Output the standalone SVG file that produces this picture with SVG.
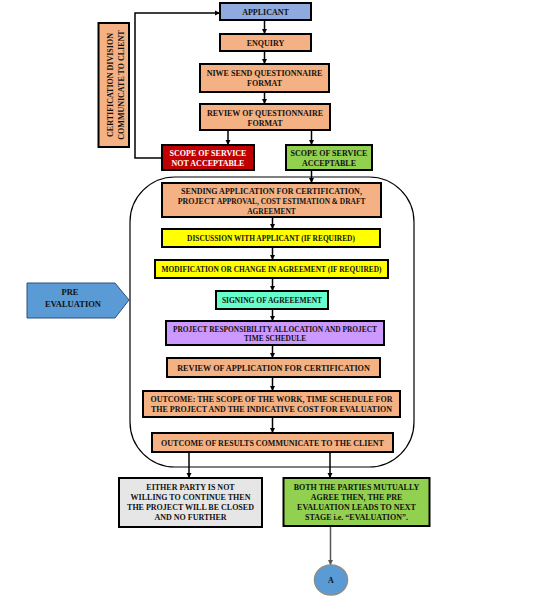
<svg xmlns="http://www.w3.org/2000/svg" width="536" height="600" viewBox="0 0 536 600">
<defs>
<marker id="ah" markerWidth="6" markerHeight="6" refX="5" refY="3" orient="auto" markerUnits="userSpaceOnUse">
<path d="M0,0.5 L5,3 L0,5.5 z" fill="#000"/>
</marker>
<marker id="ahg" markerWidth="6" markerHeight="6" refX="5" refY="3" orient="auto" markerUnits="userSpaceOnUse">
<path d="M0,0.5 L5,3 L0,5.5 z" fill="#555"/>
</marker>
<style>
.b{stroke:#000;stroke-width:2}
.t{font-family:"Liberation Serif","Times New Roman",serif;font-weight:bold;font-size:8px;fill:#111;text-anchor:middle}
.s{font-size:7.4px}
.c{fill:none;stroke:#000;stroke-width:1.5;marker-end:url(#ah)}
.peach{fill:#F4B183}
</style>
</defs>
<rect width="536" height="600" fill="#fff"/>
<rect x="130" y="177" width="284" height="290" rx="45" fill="none" stroke="#000" stroke-width="1.2"/>
<g id="connectors">
<path class="c" d="M264.5,20 V34"/>
<path class="c" d="M264.5,51 V64"/>
<path class="c" d="M264.5,92 V104"/>
<path class="c" d="M228,130 V145"/>
<path class="c" d="M311.5,130 V145"/>
<path class="c" d="M162,158 H135 V13 H220"/>
<path class="c" d="M311.5,170 V183"/>
<path class="c" d="M272.5,217 V229"/>
<path class="c" d="M272.5,247 V260"/>
<path class="c" d="M272.5,278 V291"/>
<path class="c" d="M272.5,309 V321"/>
<path class="c" d="M272.5,345 V358"/>
<path class="c" d="M272.5,377 V391"/>
<path class="c" d="M272.5,417 V433"/>
<path class="c" d="M189,452 V478"/>
<path class="c" d="M330,452 V478"/>
<path d="M330.5,526 V565" fill="none" stroke="#555" stroke-width="1.5" marker-end="url(#ahg)"/>
</g>
<g id="applicant"><rect class="b" x="220" y="3" width="91" height="17" fill="#8FAADC"/><text class="t" x="265.5" y="14.5">APPLICANT</text></g>
<g id="enquiry"><rect class="b peach" x="220" y="34" width="91" height="17"/><text class="t" x="265.5" y="45.5">ENQUIRY</text></g>
<g id="niwe"><rect class="b peach" x="200" y="64" width="129" height="28"/><text class="t" x="264.5" y="76">NIWE SEND QUESTIONNAIRE</text><text class="t" x="264.5" y="86">FORMAT</text></g>
<g id="review-q"><rect class="b peach" x="200" y="104" width="130" height="26"/><text class="t" x="265" y="116">REVIEW OF QUESTIONNAIRE</text><text class="t" x="265" y="126">FORMAT</text></g>
<g id="scope-not"><rect class="b" x="162" y="145" width="92" height="25" fill="#C00000"/><text class="t" x="208" y="155.5" style="fill:#fff">SCOPE OF SERVICE</text><text class="t" x="208" y="165.5" style="fill:#fff">NOT ACCEPTABLE</text></g>
<g id="scope-ok"><rect class="b" x="286" y="145" width="86" height="25" fill="#92D050"/><text class="t" x="329" y="155.5">SCOPE OF SERVICE</text><text class="t" x="329" y="165.5">ACCEPTABLE</text></g>
<g id="cert-division"><rect class="b peach" x="98.5" y="23" width="30.5" height="124"/><text class="t" transform="translate(113,85) rotate(-90)"><tspan x="0" y="0">CERTIFICATION DIVISION</tspan><tspan x="0" y="10.5">COMMUNICATE TO CLIENT</tspan></text></g>
<g id="sending"><rect class="b peach" x="162" y="183" width="219" height="34"/><text class="t" x="271.5" y="193.5">SENDING APPLICATION FOR CERTIFICATION,</text><text class="t" x="271.5" y="204">PROJECT <tspan class="s">APPROVAL, COST ESTIMATION &amp; DRAFT</tspan></text><text class="t s" x="271.5" y="213.5">AGREEMENT</text></g>
<g id="discussion"><rect class="b" x="162" y="229" width="218" height="18" fill="#FFFF00"/><text class="t s" x="271" y="240.5">DISCUSSION WITH APPLICANT (IF REQUIRED)</text></g>
<g id="modification"><rect class="b" x="155" y="260" width="233" height="18" fill="#FFFF00"/><text class="t s" x="271.5" y="271.5">MODIFICATION OR CHANGE IN AGREEMENT (IF REQUIRED)</text></g>
<g id="signing"><rect class="b" x="216" y="291" width="112" height="18" fill="#66FFCC"/><text class="t" x="272" y="302.5" style="font-size:7.5px">SIGNING OF AGREEEMENT</text></g>
<g id="responsibility"><rect class="b" x="166" y="321" width="218" height="24" fill="#CC99FF"/><text class="t" x="275" y="331.5" style="font-size:7.4px">PROJECT RESPONSIBILITY ALLOCATION AND PROJECT</text><text class="t" x="275" y="341" style="font-size:7.4px">TIME SCHEDULE</text></g>
<g id="review-app"><rect class="b peach" x="167" y="358" width="213" height="19"/><text class="t" x="273.5" y="370.5" style="font-size:8.2px">REVIEW OF APPLICATION FOR CERTIFICATION</text></g>
<g id="outcome"><rect class="b peach" x="143" y="391" width="257" height="26"/><text class="t" x="271.5" y="402">OUTCOME: THE SCOPE OF THE WORK, TIME SCHEDULE FOR</text><text class="t" x="271.5" y="411.5">THE PROJECT AND THE INDICATIVE COST FOR EVALUATION</text></g>
<g id="results"><rect class="b peach" x="152" y="433" width="241" height="19"/><text class="t" x="272.5" y="445.5">OUTCOME OF RESULTS COMMUNICATE TO THE CLIENT</text></g>
<g id="pre-evaluation"><polygon points="27,283 115,283 129,300 115,318 27,318" fill="#5B9BD5" stroke="#2F4F7F" stroke-width="1"/><text class="t" x="70" y="294.5" style="font-size:8.5px">PRE</text><text class="t" x="73" y="307" style="font-size:8.5px">EVALUATION</text></g>
<g id="either"><rect class="b" x="119" y="478" width="143" height="49" fill="#E7E6E6"/><text class="t" x="190.5" y="489.5">EITHER PARTY IS NOT</text><text class="t" x="190.5" y="499.5">WILLING TO CONTINUE THEN</text><text class="t" x="190.5" y="509.5">THE PROJECT WILL BE CLOSED</text><text class="t" x="190.5" y="519.5">AND NO FURTHER</text></g>
<g id="both"><rect class="b" x="283.5" y="478" width="146" height="48" fill="#92D050"/><text class="t" x="356.5" y="489.5">BOTH THE PARTIES MUTUALLY</text><text class="t" x="356.5" y="499.5">AGREE THEN, THE PRE</text><text class="t" x="356.5" y="509.5">EVALUATION LEADS TO NEXT</text><text class="t" x="356.5" y="519.5">STAGE i.e. “EVALUATION”.</text></g>
<g id="node-a"><ellipse cx="331" cy="580" rx="16.5" ry="15" fill="#5B9BD5" stroke="#8C8C8C" stroke-width="1.5"/><text class="t" x="331" y="583">A</text></g>
</svg>
